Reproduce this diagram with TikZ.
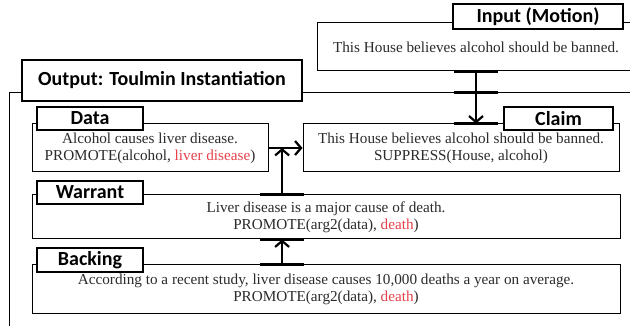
\documentclass[tikz,border=0pt]{standalone}
\usepackage{fontspec}
\setmainfont{Liberation Serif}
\newfontfamily\labfont{Carlito}
\usetikzlibrary{arrows.meta,calc}
\definecolor{txt}{HTML}{2B2B2B}
\definecolor{hl}{HTML}{E8414B}
\begin{document}
\begin{tikzpicture}[x=1pt,y=-1pt,
  box/.style={draw,line width=1pt,fill=white,inner sep=0pt,text=txt,align=center,
    font=\fontsize{15.2}{17}\selectfont},
  lab/.style={draw,line width=1.6pt,fill=white,inner sep=0pt,
    font=\labfont\bfseries\fontsize{20}{22}\selectfont},
  bar/.style={line width=3pt},
  arr/.style={line width=2.2pt,-{Straight Barb[length=6pt,width=14pt]}}]
\clip (0,0) rectangle (630,326);
\fill[white] (0,0) rectangle (630,326);
% input
\node[box,minimum width=318pt,minimum height=48pt] (input) at (476,47) {This House believes alcohol should be banned.};
\node[lab,minimum width=170pt,minimum height=25pt] (inlabel) at (538,16.5) {Input (Motion)};
% output frame
\node[draw,line width=1pt,minimum width=631pt,minimum height=247pt,inner sep=0pt] (output) at (324.5,216.5) {};
\node[lab,minimum width=280pt,minimum height=41pt] (outlabel) at (162,80.5) {Output: Toulmin Instantiation};
% data
\node[box,minimum width=236pt,minimum height=48pt] (data) at (150,148) {Alcohol causes liver disease.\\PROMOTE(alcohol, \textcolor{hl}{liver disease})};
\node[lab,minimum width=106pt,minimum height=23pt] (datalabel) at (90,118.5) {Data};
% claim
\node[box,minimum width=316pt,minimum height=48pt] (claim) at (461,148) {This House believes alcohol should be banned.\\SUPPRESS(House, alcohol)};
\node[lab,minimum width=109pt,minimum height=23pt] (claimlabel) at (558.5,118.5) {Claim};
% warrant
\node[box,minimum width=588pt,minimum height=44pt] (warrant) at (326,217) {Liver disease is a major cause of death.\\PROMOTE(arg2(data), \textcolor{hl}{death})};
\node[lab,minimum width=106pt,minimum height=23pt] (warrantlabel) at (90,192.5) {Warrant};
% backing
\node[box,minimum width=588pt,minimum height=48pt] (backing) at (326,289) {According to a recent study, liver disease causes 10,000 deaths a year on average.\\PROMOTE(arg2(data), \textcolor{hl}{death})};
\node[lab,minimum width=106pt,minimum height=24pt] (backinglabel) at (90,260) {Backing};
% connectors
\coordinate (m1) at (input.south |- output.north);
\coordinate (m2) at (input.south |- claim.north);
\draw[arr] (input.south) -- (m2);
\draw[bar] ([xshift=-22pt]input.south) -- ([xshift=22pt]input.south);
\draw[bar] ([xshift=-22pt]m1) -- ([xshift=22pt]m1);
\draw[bar] ([xshift=-22pt]m2) -- ([xshift=22pt]m2);
\draw[arr] (data.east) -- (claim.west);
\coordinate (j) at ($(data.east)!0.4!(claim.west)$);
\coordinate (w1) at (j |- warrant.north);
\coordinate (w2) at (j |- warrant.south);
\coordinate (b1) at (j |- backing.north);
\draw[arr] (w1) -- (j);
\draw[arr] (b1) -- (w2);
\draw[bar] ([xshift=-22pt]w1) -- ([xshift=22pt]w1);
\draw[bar] ([xshift=-22pt]w2) -- ([xshift=22pt]w2);
\draw[bar] ([xshift=-22pt]b1) -- ([xshift=22pt]b1);
\end{tikzpicture}
\end{document}
